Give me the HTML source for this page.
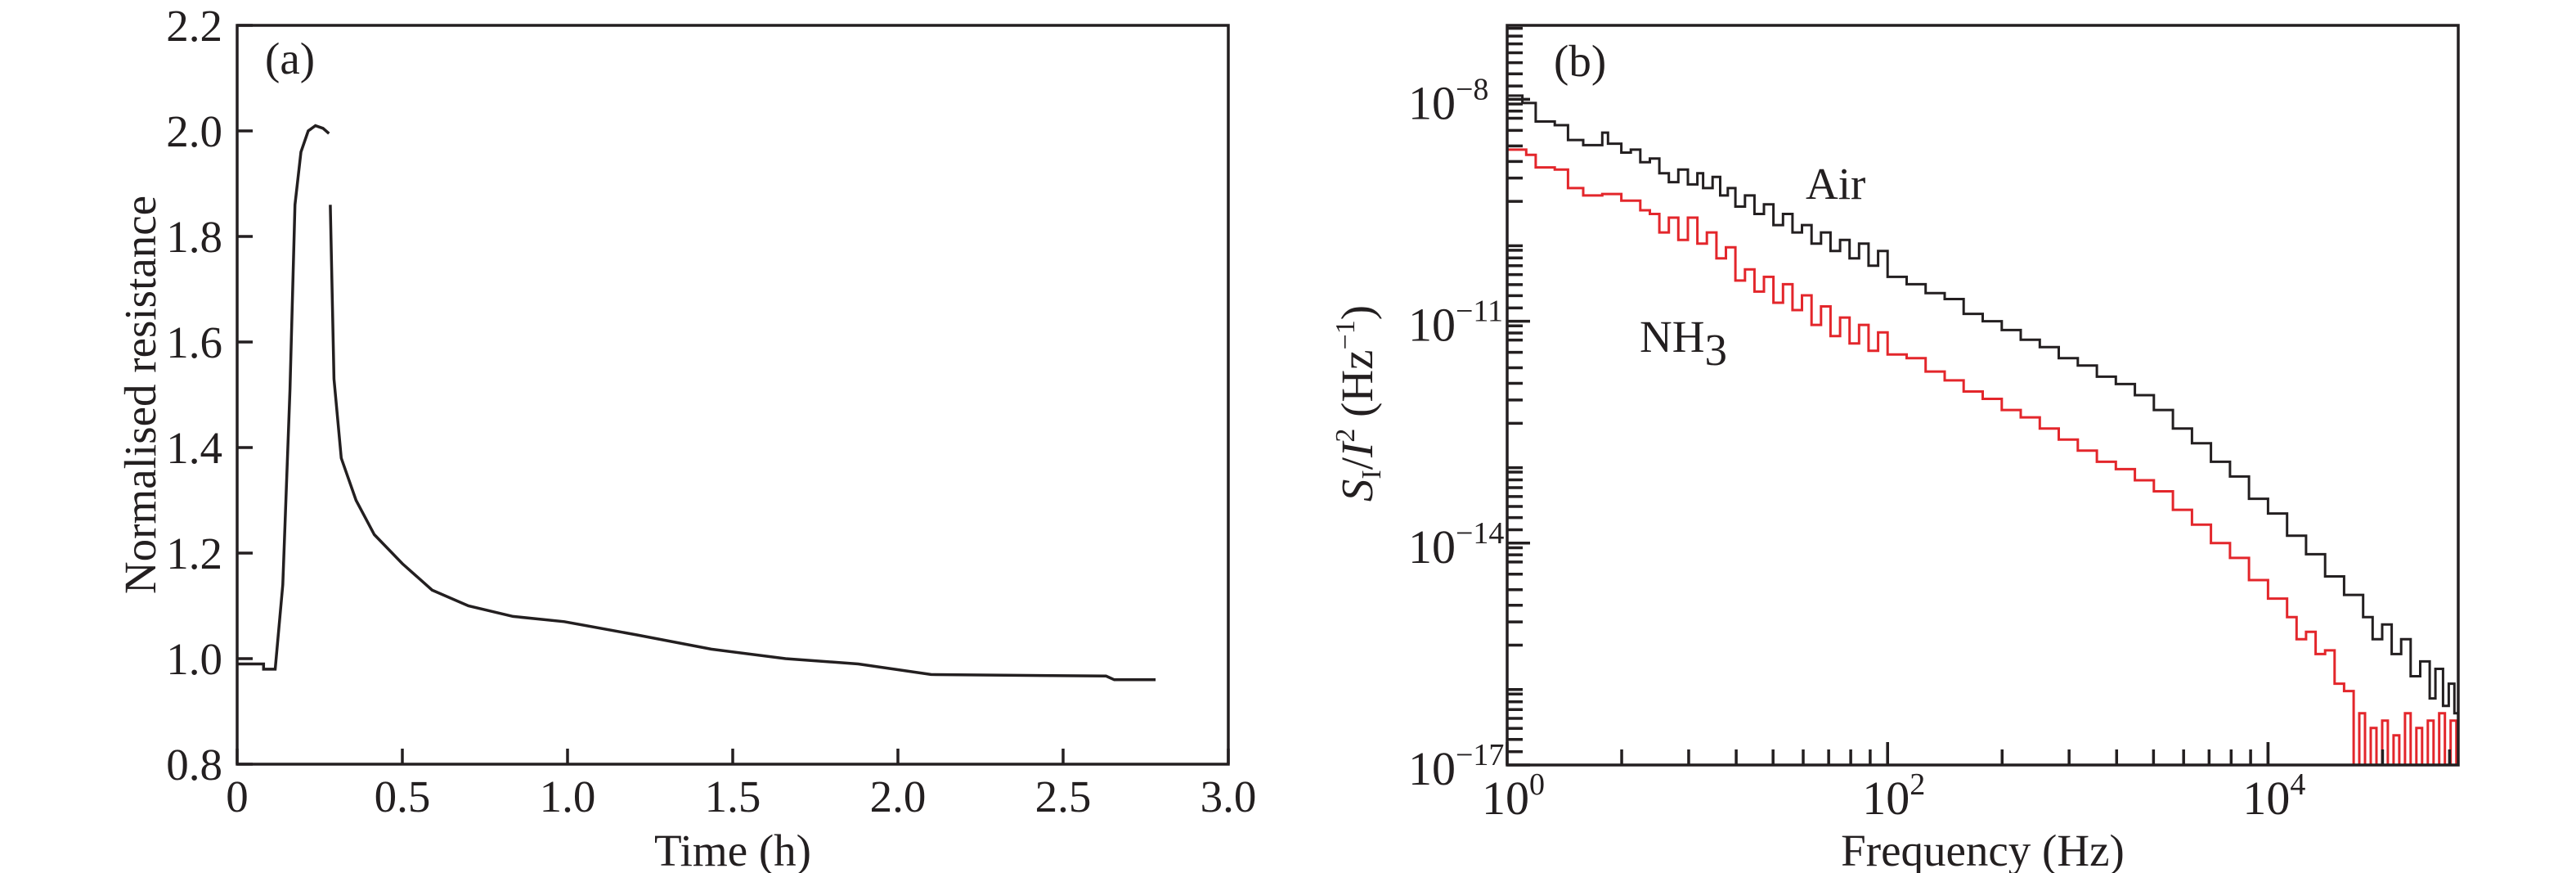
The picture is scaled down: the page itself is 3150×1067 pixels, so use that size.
<!DOCTYPE html>
<html><head><meta charset="utf-8"><style>
html,body{margin:0;padding:0;background:#fff;}
svg{display:block;font-family:"Liberation Serif",serif;}
</style></head><body>
<svg id="fig" width="3150" height="1067" viewBox="0 0 3150 1067" xmlns="http://www.w3.org/2000/svg"></svg>
<script>
// ---- Panel (a) data ----
const timeH = [0,0.08,0.08,0.115,0.138,0.16,0.175,0.193,0.215,0.237,0.26,0.278,0.282,0.293,0.315,0.36,0.415,0.5,0.59,0.70,0.835,0.99,1.21,1.435,1.66,1.88,2.1,2.63,2.655,2.78];
const resist = [0.99,0.99,0.98,0.98,1.14,1.51,1.86,1.96,2.0,2.01,2.005,1.995,1.86,1.53,1.38,1.30,1.235,1.18,1.13,1.10,1.08,1.07,1.045,1.018,1.0,0.99,0.97,0.967,0.96,0.96];
const aYTicks = ["0.8","1.0","1.2","1.4","1.6","1.8","2.0","2.2"];
const aXTicks = ["0","0.5","1.0","1.5","2.0","2.5","3.0"];
// ---- Panel (b) data (log10 values) ----
const airLogF = [0,.08,.15,.25,.32,.4,.48,.5,.53,.6,.65,.7,.75,.8,.85,.9,.95,1.0,1.03,1.08,1.12,1.16,1.2,1.25,1.3,1.35,1.4,1.45,1.5,1.55,1.6,1.65,1.7,1.75,1.8,1.85,1.9,1.95,2.0,2.1,2.2,2.3,2.4,2.5,2.6,2.7,2.8,2.9,3.0,3.1,3.2,3.3,3.4,3.5,3.6,3.7,3.8,3.9,4.0,4.1,4.2,4.3,4.4,4.5,4.55,4.6,4.65,4.7,4.75,4.8,4.85,4.88,4.92,4.95,4.98,5.0];
const airLogS = [-7.95,-8.05,-8.3,-8.35,-8.55,-8.62,-8.62,-8.45,-8.6,-8.72,-8.68,-8.85,-8.8,-9.0,-9.12,-8.95,-9.15,-9.0,-9.2,-9.05,-9.3,-9.2,-9.45,-9.3,-9.55,-9.42,-9.7,-9.55,-9.8,-9.7,-9.95,-9.8,-10.05,-9.9,-10.15,-9.95,-10.25,-10.05,-10.4,-10.5,-10.62,-10.7,-10.9,-11.0,-11.12,-11.25,-11.35,-11.5,-11.6,-11.75,-11.85,-12.0,-12.2,-12.45,-12.65,-12.9,-13.1,-13.4,-13.6,-13.9,-14.15,-14.45,-14.7,-15.0,-15.3,-15.1,-15.5,-15.3,-15.8,-15.6,-16.1,-15.7,-16.2,-15.9,-16.3,-16.4];
const nh3LogF = [0,.1,.15,.25,.32,.4,.5,.6,.7,.75,.8,.85,.9,.95,1.0,1.05,1.1,1.15,1.2,1.25,1.3,1.35,1.4,1.45,1.5,1.55,1.6,1.65,1.7,1.75,1.8,1.85,1.9,1.95,2.0,2.1,2.2,2.3,2.4,2.5,2.6,2.7,2.8,2.9,3.0,3.1,3.2,3.3,3.4,3.5,3.6,3.7,3.8,3.9,4.0,4.1,4.15,4.2,4.25,4.3,4.35,4.4,4.45,4.48,4.51,4.54,4.57,4.6,4.63,4.66,4.69,4.72,4.75,4.78,4.81,4.84,4.87,4.9,4.93,4.96,4.99];
const nh3LogS = [-8.68,-8.75,-8.92,-8.95,-9.2,-9.3,-9.28,-9.37,-9.5,-9.55,-9.8,-9.6,-9.9,-9.6,-9.95,-9.8,-10.15,-10.0,-10.45,-10.3,-10.6,-10.4,-10.75,-10.5,-10.85,-10.65,-11.05,-10.8,-11.2,-10.95,-11.3,-11.05,-11.4,-11.15,-11.45,-11.5,-11.68,-11.8,-11.95,-12.05,-12.2,-12.3,-12.45,-12.6,-12.75,-12.9,-13.0,-13.15,-13.3,-13.55,-13.75,-14.0,-14.2,-14.5,-14.75,-15.0,-15.3,-15.2,-15.5,-15.45,-15.9,-16.0,-17,-16.3,-17,-16.5,-17,-16.4,-17,-16.6,-17,-16.3,-17,-16.5,-17,-16.4,-17,-16.3,-17,-16.4,-17];
const bXTickExp = ["0","2","4"];
const bYTickExp = ["−17","−14","−11","−8"];

const NS="http://www.w3.org/2000/svg";
const svg=document.getElementById('fig');
function mk(tag,attrs,parent){const e=document.createElementNS(NS,tag);for(const k in attrs)e.setAttribute(k,attrs[k]);(parent||svg).appendChild(e);return e;}

// ---------- Panel (a) ----------
const aL=290,aR=1502,aT=31,aB=934;
const ax=t=>aL+(t/3)*(aR-aL);
const ay=v=>aB-(v-0.8)/1.4*(aB-aT);
const gA=mk('g',{});


function stepPath(xs,ys,fx,fy,breakIdx){let d='';for(let i=0;i<xs.length;i++){const X=fx(xs[i]).toFixed(1),Y=fy(ys[i]).toFixed(1);if(i===0||i===breakIdx)d+='M'+X+' '+Y;else{d+='L'+X+' '+fy(ys[i-1]).toFixed(1)+'L'+X+' '+Y;}}return d;}
function linePath(xs,ys,fx,fy,breakIdx){let d='';for(let i=0;i<xs.length;i++){d+=(i===0||i===breakIdx?'M':'L')+fx(xs[i]).toFixed(1)+' '+fy(ys[i]).toFixed(1);}return d;}
let brk=timeH.findIndex((t,i)=>i>0&&resist[i]<resist[i-1]-0.1);
const curveA=mk('path',{d:linePath(timeH,resist,ax,ay,brk),fill:'none',stroke:'#231f20','stroke-width':3.5,'stroke-linejoin':'miter'},gA);


const frameA=mk('rect',{x:aL,y:aT,width:aR-aL,height:aB-aT,fill:'none',stroke:'#231f20','stroke-width':3.5},gA);


aYTicks.forEach((lab,i)=>{const v=parseFloat(lab),y=ay(v);
 mk('line',{x1:aL,x2:aL+19,y1:y,y2:y,stroke:'#231f20','stroke-width':3.5},gA);
 const t=mk('text',{x:aL-18,y:y+19,'font-size':55,'text-anchor':'end',fill:'#231f20'},gA);t.textContent=lab;
 
 });
aXTicks.forEach((lab,i)=>{const v=parseFloat(lab),x=ax(v);
 mk('line',{x1:x,x2:x,y1:aB,y2:aB-19,stroke:'#231f20','stroke-width':3.5},gA);
 const t=mk('text',{x:x,y:992,'font-size':55,'text-anchor':'middle',fill:'#231f20'},gA);t.textContent=lab;
 
 });
const xtA=mk('text',{x:(aL+aR)/2,y:1058,'font-size':55,'text-anchor':'middle',fill:'#231f20'},gA);xtA.textContent='Time (h)';


const ytA=mk('text',{x:0,y:0,'font-size':55,'text-anchor':'middle',fill:'#231f20',transform:'translate(190,'+((aT+aB)/2)+') rotate(-90)'},gA);ytA.textContent='Normalised resistance';


const labA=mk('text',{x:324,y:90,'font-size':55,fill:'#231f20'},gA);labA.textContent='(a)';



// ---------- Panel (b) ----------
const bL=1843,bR=3006,bT=31,bB=935;
const bx=lf=>bL+(lf/5)*(bR-bL);
const by=ls=>bB-(ls+17)/10*(bB-bT);
const gB=mk('g',{});


const airP=mk('path',{d:stepPath(airLogF,airLogS,bx,by,-1),fill:'none',stroke:'#231f20','stroke-width':3},gB);


const nhP=mk('path',{d:stepPath(nh3LogF,nh3LogS,bx,by,-1),fill:'none',stroke:'#e3262b','stroke-width':3},gB);


const frameB=mk('rect',{x:bL,y:bT,width:bR-bL,height:bB-bT,fill:'none',stroke:'#231f20','stroke-width':3.5},gB);


for(let s=0;s<5;s+=2){for(let k=1;k<=10;k++){const lf=s+2*Math.log10(k);if(lf<=0&&k>1)continue;if(lf>=5)continue;
 const x=bx(lf),len=(k===1||k===10)?28:19;
 mk('line',{x1:x,x2:x,y1:bB,y2:bB-len,stroke:'#231f20','stroke-width':3.5},gB);}}
bXTickExp.forEach(e=>{const x=bx(parseFloat(e));
 const t=mk('text',{x:x-31,y:995,'font-size':58,fill:'#231f20'},gB);
 
 
 t.textContent='10';const sp=mk('tspan',{dy:-24,'font-size':38},t);sp.textContent=e;});
// y ticks (reference pattern: two clusters below each major)
const yMinorFrac=[.021,.053,.085,.14,.21,.28,.355,.46,.66,.68,.715,.75,.79,.835,.885,.94];
for(let s=-17;s<=-8;s+=3){const ym=by(s);mk('line',{x1:bL,x2:bL+28,y1:ym,y2:ym,stroke:'#231f20','stroke-width':3.5},gB);}
for(let top=-5;top>-17;top-=3){yMinorFrac.forEach(f=>{const ls=top-3*f;if(ls>-7||ls<=-17)return;const y=by(ls);
 mk('line',{x1:bL,x2:bL+19,y1:y,y2:y,stroke:'#231f20','stroke-width':3.5},gB);});}
bYTickExp.forEach(e=>{const v=parseFloat(e.replace('−','-')),y=by(v);
 const t=mk('text',{x:1722,y:y+24,'font-size':58,fill:'#231f20'},gB);
 
 
 t.textContent='10';const sp=mk('tspan',{dy:-24,'font-size':38},t);sp.textContent=e;});
const xtB=mk('text',{x:(bL+bR)/2,y:1058,'font-size':55,'text-anchor':'middle',fill:'#231f20'},gB);xtB.textContent='Frequency (Hz)';


const ytB=mk('text',{x:0,y:0,'font-size':55,'text-anchor':'middle',fill:'#231f20',transform:'translate(1678,'+((bT+bB)/2+10)+') rotate(-90)'},gB);


ytB.innerHTML='<tspan font-style="italic">S</tspan><tspan font-size="34" dy="10">I</tspan><tspan dy="-10">/</tspan><tspan font-style="italic">I</tspan><tspan font-size="34" dy="-22">2</tspan><tspan dy="22"> (Hz</tspan><tspan font-size="34" dy="-22">−1</tspan><tspan dy="22">)</tspan>';
const labB=mk('text',{x:1900,y:93,'font-size':55,fill:'#231f20'},gB);labB.textContent='(b)';


const airL=mk('text',{x:2208,y:243,'font-size':55,fill:'#231f20'},gB);airL.textContent='Air';


const nhL=mk('text',{x:2005,y:430,'font-size':55,fill:'#231f20'},gB);nhL.textContent='NH';


const sub=mk('tspan',{dy:16},nhL);sub.textContent='3';
</script>
</body></html>
